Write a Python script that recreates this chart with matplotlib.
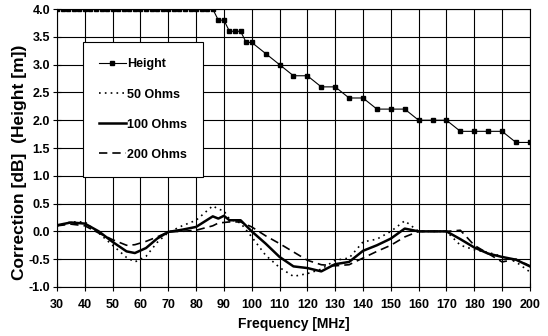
import matplotlib
matplotlib.use("Agg")
import matplotlib.pyplot as plt
import numpy as np

# Antenna height versus frequency
height_freq = [30, 32, 34, 36, 38, 40, 42, 44, 46, 48, 50, 52, 54, 56, 58, 60,
               62, 64, 66, 68, 70, 72, 74, 76, 78, 80, 82, 84, 86,
               88, 90, 92, 94, 96, 98, 100, 105, 110, 115, 120, 125, 130,
               135, 140, 145, 150, 155, 160, 165, 170, 175, 180, 185, 190,
               195, 200]
height_m = [4.0] * 29 + [3.8, 3.8, 3.6, 3.6, 3.6, 3.4, 3.4, 3.2, 3.0, 2.8, 2.8,
                         2.6, 2.6, 2.4, 2.4, 2.2, 2.2, 2.2, 2.0, 2.0, 2.0,
                         1.8, 1.8, 1.8, 1.8, 1.6, 1.6]

# Correction curves
corr_freq = [30, 35, 40, 45, 50, 55, 58, 62, 66, 70, 75, 80, 86, 88, 90, 92, 96,
             100, 105, 110, 115, 120, 125, 130, 135, 140, 145, 150, 155, 160,
             165, 170, 175, 180, 185, 190, 195, 200]
corr_50 = [0.10, 0.17, 0.17, -0.03, -0.25, -0.47, -0.55, -0.45, -0.20, -0.02,
           0.10, 0.20, 0.46, 0.40, 0.37, 0.22, 0.15, -0.10, -0.43, -0.65, -0.81,
           -0.76, -0.68, -0.52, -0.48, -0.19, -0.14, 0.00, 0.19, 0.00, 0.00,
           0.00, -0.25, -0.33, -0.38, -0.45, -0.55, -0.73]
corr_100 = [0.11, 0.16, 0.14, 0.00, -0.19, -0.36, -0.39, -0.30, -0.13, -0.01,
            0.03, 0.08, 0.27, 0.23, 0.28, 0.20, 0.20, 0.00, -0.22, -0.46, -0.63,
            -0.66, -0.72, -0.59, -0.55, -0.35, -0.25, -0.13, 0.05, 0.00, 0.00,
            0.00, -0.14, -0.29, -0.40, -0.46, -0.51, -0.63]
corr_200 = [0.10, 0.13, 0.10, -0.03, -0.15, -0.25, -0.24, -0.18, -0.10, -0.01,
            0.00, 0.02, 0.10, 0.15, 0.16, 0.17, 0.17, 0.08, -0.08, -0.22, -0.37,
            -0.52, -0.60, -0.62, -0.60, -0.48, -0.36, -0.25, -0.10, 0.00, 0.00,
            0.00, 0.02, -0.25, -0.40, -0.55, -0.50, -0.62]

plt.rcParams['font.family'] = ['Liberation Sans', 'DejaVu Sans']
plt.rcParams['font.weight'] = 'bold'

fig = plt.figure(figsize=(5.48, 3.36), dpi=100)
ax = fig.add_axes([0.104, 0.146, 0.863, 0.827])

ax.plot(height_freq, height_m, color='black', lw=0.8, marker='s',
        markersize=2.8, label='Height')
ax.plot(corr_freq, corr_50, color='black', lw=1.2, linestyle=(0, (1, 2.5)),
        label='50 Ohms')
ax.plot(corr_freq, corr_100, color='black', lw=1.8, label='100 Ohms')
ax.plot(corr_freq, corr_200, color='black', lw=1.2, linestyle=(0, (5, 3)),
        label='200 Ohms')

ax.set_xlim(30, 200)
ax.set_ylim(-1.0, 4.0)
ax.set_xticks(np.arange(30, 201, 10))
ax.set_yticks(np.arange(-1.0, 4.01, 0.5))
ax.yaxis.set_major_formatter(matplotlib.ticker.FormatStrFormatter('%.1f'))
ax.grid(True, color='black', lw=0.8)
ax.tick_params(direction='inout', length=6, width=0.8, labelsize=9)
ax.tick_params(axis='x', pad=6)
ax.tick_params(axis='y', pad=2)
for lab in ax.get_xticklabels() + ax.get_yticklabels():
    lab.set_fontweight('bold')
for s in ax.spines.values():
    s.set_linewidth(0.8)

ax.set_xlabel('Frequency [MHz]', fontsize=10, fontweight='bold', labelpad=4)
ax.set_ylabel('Correction [dB]  (Height [m])', fontsize=12.5,
              fontweight='bold', labelpad=1)
ax.yaxis.label.set_y(0.45)

leg = ax.legend(loc='upper left', bbox_to_anchor=(0.055, 0.881),
                fontsize=9, frameon=True, fancybox=False, framealpha=1,
                edgecolor='black', labelspacing=1.45, handlelength=2.1,
                handletextpad=0.1, borderpad=1.3, borderaxespad=0)
leg.get_frame().set_linewidth(0.8)
for t in leg.get_texts():
    t.set_fontweight('bold')

fig.savefig('out.png', dpi=100)
